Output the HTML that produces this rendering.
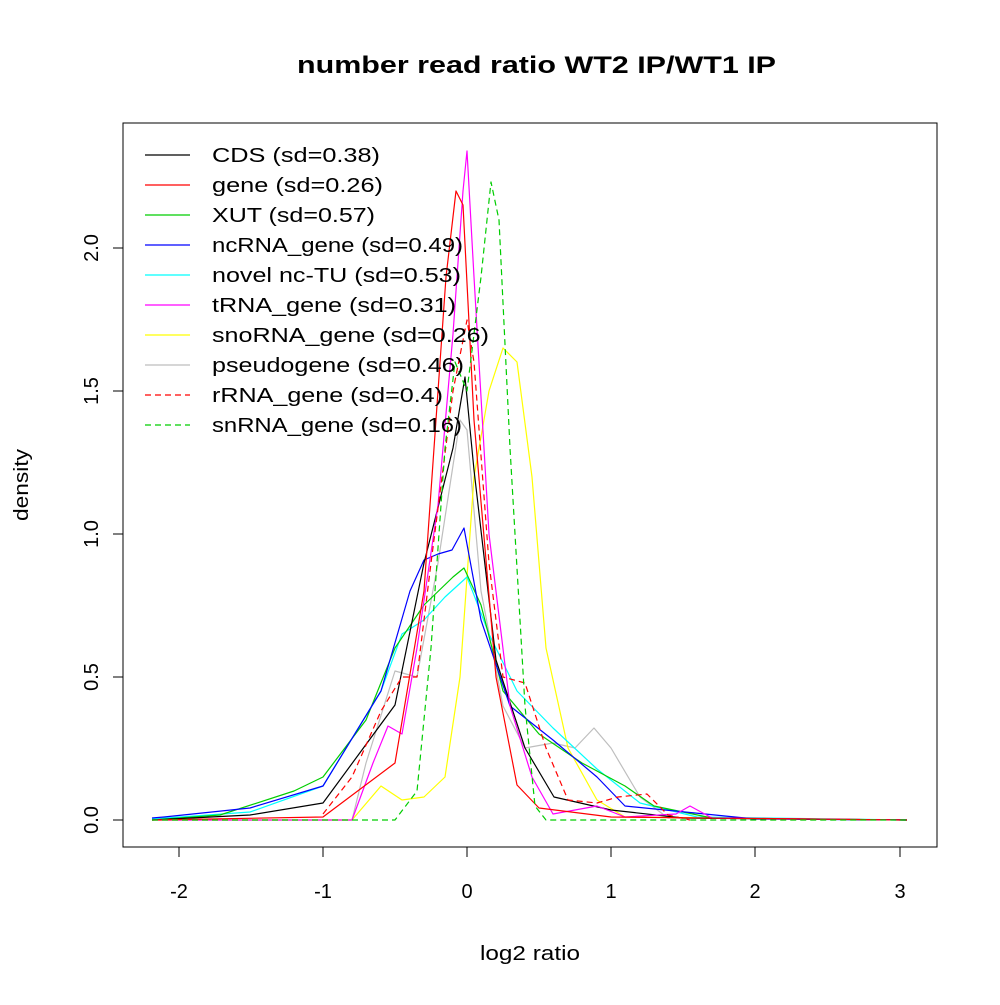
<!DOCTYPE html>
<html><head><style>body{margin:0;background:#fff}</style></head><body>
<svg width="1000" height="1000" xmlns="http://www.w3.org/2000/svg" font-family="Liberation Sans, sans-serif">
<rect width="1000" height="1000" fill="#fff"/>
<text x="297" y="73" font-size="24" font-weight="bold" textLength="479" lengthAdjust="spacingAndGlyphs">number read ratio WT2 IP/WT1 IP</text>
<rect x="123" y="123" width="814" height="724" fill="none" stroke="#000"/>
<g stroke="#000">
<line x1="179" y1="847" x2="900" y2="847"/>
<line x1="179" y1="847" x2="179" y2="857"/><line x1="323" y1="847" x2="323" y2="857"/><line x1="467" y1="847" x2="467" y2="857"/><line x1="611" y1="847" x2="611" y2="857"/><line x1="755" y1="847" x2="755" y2="857"/><line x1="900" y1="847" x2="900" y2="857"/>
<line x1="123" y1="820" x2="123" y2="248"/>
<line x1="113" y1="820" x2="123" y2="820"/><line x1="113" y1="677" x2="123" y2="677"/><line x1="113" y1="534" x2="123" y2="534"/><line x1="113" y1="391" x2="123" y2="391"/><line x1="113" y1="248" x2="123" y2="248"/>
</g>
<g font-size="20" text-anchor="middle">
<text x="179" y="898">-2</text><text x="323" y="898">-1</text><text x="467" y="898">0</text><text x="611" y="898">1</text><text x="755" y="898">2</text><text x="900" y="898">3</text>
<text x="530" y="960" textLength="100" lengthAdjust="spacingAndGlyphs">log2 ratio</text>
<text transform="translate(98,820) rotate(-90)">0.0</text>
<text transform="translate(98,677) rotate(-90)">0.5</text>
<text transform="translate(98,534) rotate(-90)">1.0</text>
<text transform="translate(98,391) rotate(-90)">1.5</text>
<text transform="translate(98,248) rotate(-90)">2.0</text>
<text transform="translate(28,485) rotate(-90)" textLength="72" lengthAdjust="spacingAndGlyphs">density</text>
</g>
<g fill="none" stroke-width="1.2" stroke-linejoin="round">
<polyline stroke="#bebebe" points="152,820 352,820 366,763 395,671 417,677 438,563 460,420 467,430 481,591 503,706 525,748 553,743 575,748 594,728 611,748 640,797 668,818 907,820"/>
<polyline stroke="#ffff00" points="152,820 352,820 381,786 402,800 424,797 445,777 460,677 474,477 489,391 503,348 517,362 532,477 546,648 568,748 597,800 625,817 907,820"/>
<polyline stroke="#00ffff" points="152,819 250,812 323,786 381,691 402,634 424,620 445,597 467,577 489,634 517,691 553,728 597,769 640,803 697,817 907,820"/>
<polyline stroke="#00cd00" points="152,820 220,815 294,791 323,777 366,720 395,648 424,605 453,577 464,568 481,605 503,691 539,734 582,763 625,786 654,806 712,818 907,820"/>
<polyline stroke="#0000ff" points="152,818 164,817 250,808 323,786 381,691 410,591 424,560 438,554 452,550 464,528 481,620 510,706 553,740 597,777 625,806 755,819 907,820"/>
<polyline stroke="#000" points="152,820 250,815 323,803 395,705 424,563 453,448 465,377 474,470 496,660 525,748 554,797 611,810 683,818 907,820"/>
<polyline stroke="#ff00ff" points="152,820 352,820 373,763 388,726 402,734 417,648 438,505 453,334 463,191 467,151 474,277 489,534 510,706 532,777 553,814 597,806 625,817 676,814 690,806 712,818 907,820"/>
<polyline stroke="#ff0000" points="152,820 323,817 395,763 424,591 446,277 456,191 463,205 474,420 496,677 517,785 539,808 611,817 907,820"/>
<polyline stroke="#ff0000" stroke-dasharray="6,4" points="323,814 352,777 381,711 402,677 417,677 431,563 453,391 467,320 474,362 489,563 503,677 525,683 546,748 568,800 597,803 618,797 647,794 668,815 690,820"/>
<polyline stroke="#00cd00" stroke-dasharray="6,4" points="152,820 395,820 417,791 431,648 445,448 455,362 467,391 481,277 491,182 499,220 510,448 525,706 535,806 546,820 907,820"/>
</g>
<g font-size="20" stroke-width="1.2" lengthAdjust="spacingAndGlyphs">
<line x1="145" y1="155" x2="190" y2="155" stroke="#000"/><text x="212" y="162" textLength="168" lengthAdjust="spacingAndGlyphs">CDS (sd=0.38)</text>
<line x1="145" y1="185" x2="190" y2="185" stroke="#ff0000"/><text x="212" y="192" textLength="171" lengthAdjust="spacingAndGlyphs">gene (sd=0.26)</text>
<line x1="145" y1="215" x2="190" y2="215" stroke="#00cd00"/><text x="212" y="222" textLength="163" lengthAdjust="spacingAndGlyphs">XUT (sd=0.57)</text>
<line x1="145" y1="245" x2="190" y2="245" stroke="#0000ff"/><text x="212" y="252" textLength="251" lengthAdjust="spacingAndGlyphs">ncRNA_gene (sd=0.49)</text>
<line x1="145" y1="275" x2="190" y2="275" stroke="#00ffff"/><text x="212" y="282" textLength="249" lengthAdjust="spacingAndGlyphs">novel nc-TU (sd=0.53)</text>
<line x1="145" y1="305" x2="190" y2="305" stroke="#ff00ff"/><text x="212" y="312" textLength="244" lengthAdjust="spacingAndGlyphs">tRNA_gene (sd=0.31)</text>
<line x1="145" y1="335" x2="190" y2="335" stroke="#ffff00"/><text x="212" y="342" textLength="277" lengthAdjust="spacingAndGlyphs">snoRNA_gene (sd=0.26)</text>
<line x1="145" y1="365" x2="190" y2="365" stroke="#bebebe"/><text x="212" y="372" textLength="252" lengthAdjust="spacingAndGlyphs">pseudogene (sd=0.46)</text>
<line x1="145" y1="395" x2="190" y2="395" stroke="#ff0000" stroke-dasharray="6,4"/><text x="212" y="402" textLength="231" lengthAdjust="spacingAndGlyphs">rRNA_gene (sd=0.4)</text>
<line x1="145" y1="425" x2="190" y2="425" stroke="#00cd00" stroke-dasharray="6,4"/><text x="212" y="432" textLength="250" lengthAdjust="spacingAndGlyphs">snRNA_gene (sd=0.16)</text>
</g>
</svg>
</body></html>
